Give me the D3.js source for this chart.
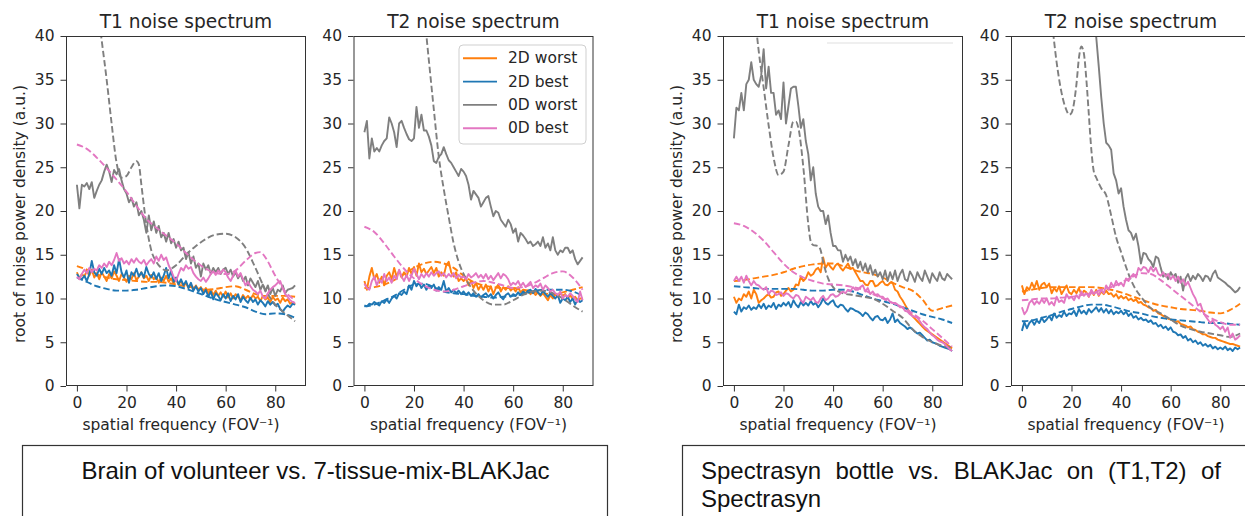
<!DOCTYPE html>
<html><head><meta charset="utf-8">
<script src="https://cdn.jsdelivr.net/npm/d3@7"></script>
<style>body{margin:0;background:#fff;}svg{display:block;}</style>
</head><body>
<svg id="chart" width="1245" height="516"></svg>
<script>
// ---------- shared axis values ----------
const yTicks = [0, 5, 10, 15, 20, 25, 30, 35, 40];
const xTicks = [0, 20, 40, 60, 80];
const seriesNames = ["2D worst", "2D best", "0D worst", "0D best"];
const titles = ["T1 noise spectrum", "T2 noise spectrum", "T1 noise spectrum", "T2 noise spectrum"];
const xLabel = "spatial frequency (FOV\u207B\u00B9)";
const yLabel = "root of noise power density (a.u.)";
const captions = ["Brain of volunteer vs. 7-tissue-mix-BLAKJac",
                  "Spectrasyn bottle vs. BLAKJac on (T1,T2) of", "Spectrasyn"];

// ---------- Panel 1: brain, T1 (solid = measured, sampled every 1 FOV^-1 from 0) ----------
const brainT1_2Dworst = [13.0,12.3,12.8,12.5,13.2,12.6,13.3,12.4,12.9,12.2, 13.0,12.5,12.0,12.8,12.3,13.1,12.6,12.0,12.8,12.4,
 11.9,12.6,12.2,12.9,12.1,12.5,13.0,12.3,12.6,12.0, 12.7,12.2,12.5,11.8,12.4,12.0,12.6,11.9,12.3,11.7,
 12.2,11.6,12.0,11.4,11.8,11.2,11.6,11.0,11.5,10.9, 11.3,10.8,11.2,10.6,11.0,10.4,10.9,10.3,10.7,10.2,
 10.8,10.1,10.6,10.0,10.5,10.2,9.8,10.4,10.0,10.3, 9.9,10.4,10.0,10.2,9.7,10.3,9.9,10.1,9.6,10.2, 9.8,10.0,9.5,10.1,9.7,9.9,9.4,9.6,9.3];
const brainT1_2Dbest = [12.8,12.4,12.2,12.6,12.0,12.8,14.3,13.0,12.6,13.4, 12.8,13.5,12.9,13.2,12.6,13.8,12.9,14.5,13.0,12.4,
 13.2,11.8,13.0,12.6,13.4,12.5,13.0,12.4,13.6,12.8, 12.4,13.0,12.2,12.9,12.0,12.6,13.5,12.3,13.2,11.9,
 12.4,11.6,12.2,11.5,12.0,11.2,11.8,10.9,11.4,10.8, 11.2,10.5,11.0,10.2,10.8,9.9,10.6,10.3,9.8,10.5,
 10.0,10.6,9.7,10.3,9.9,10.5,9.6,10.2,9.8,9.5, 10.1,9.6,9.9,9.3,9.8,9.5,9.1,9.7,9.3,9.6, 9.2,9.4,8.8,8.5,8.9,9.2,9.0,9.4,9.3];
const brainT1_0Dworst = [23.0,20.3,23.0,22.8,23.2,22.5,23.3,21.5,22.3,23.0, 23.5,24.5,25.3,24.5,23.3,24.7,24.2,24.8,23.5,22.5,
 22.0,21.0,21.5,20.5,21.0,19.5,20.0,19.0,17.5,19.5, 17.8,18.8,17.5,18.3,17.0,17.5,16.5,17.5,16.3,16.8,
 15.8,16.5,15.5,15.8,14.5,15.3,14.0,14.8,13.5,14.0, 12.5,14.0,13.3,13.8,12.8,13.5,13.0,13.5,12.8,13.3,
 13.5,12.8,13.3,12.5,13.0,12.3,12.8,12.0,12.5,11.5, 12.3,11.8,11.3,12.0,11.0,11.6,10.8,11.5,10.5,11.2, 10.3,11.0,10.8,11.5,10.6,11.0,11.1,11.2,11.5];
const brainT1_0Dbest = [12.5,12.2,12.8,13.3,12.9,13.5,13.0,13.4,13.2,13.8, 13.5,14.0,13.6,14.2,13.8,14.4,15.2,14.3,14.6,14.0,
 14.3,13.9,14.5,14.1,14.6,14.2,14.0,14.4,13.8,14.2, 14.5,14.0,14.8,14.3,15.0,14.4,14.7,13.8,13.2,12.5,
 12.0,12.8,13.5,13.2,13.8,13.4,13.6,12.9,12.5,12.2, 12.0,12.4,11.9,12.3,12.8,13.1,12.7,13.2,12.9,13.3,
 13.0,12.4,12.0,12.6,13.2,12.5,12.9,12.2,11.5,11.9, 11.4,11.0,10.8,10.5,10.9,10.2,10.0,10.6,11.0,11.3, 11.5,11.8,12.0,11.2,10.5,10.2,9.8,9.6,9.5];
// dashed = model, [frequency, value]
const brainT1_2Dworst_model = [[0,13.7],[4,13.3],[8,12.8],[12,12.4],[16,12.2],[20,12.1],[24,12.0],[28,11.9],[32,11.9],[36,11.8],[40,11.6],[44,11.4],[48,11.2],[52,11.0],[56,11.1],[60,11.3],[64,11.4],[68,11.0],[72,10.5],[76,10.3],[80,10.3],[84,10.3],[88,10.2]];
const brainT1_2Dbest_model = [[0,12.4],[4,11.9],[8,11.4],[12,11.1],[16,10.9],[20,10.9],[24,11.0],[28,11.2],[32,11.4],[36,11.5],[40,11.4],[44,11.1],[48,10.7],[52,10.3],[56,9.9],[60,9.6],[64,9.3],[68,9.0],[72,8.5],[76,8.2],[80,8.3],[84,8.2],[88,7.8]];
const brainT1_0Dworst_model = [[6,48],[8,44],[10,39.5],[12,35],[14,30],[16,25.5],[18,23.8],[20,24.0],[22,25.0],[24,25.7],[25,25.3],[26,23.0],[28,18.5],[30,15.5],[32,14.2],[34,13.5],[36,13.2],[38,13.4],[40,13.8],[44,15.0],[48,16.0],[52,16.8],[56,17.3],[60,17.4],[64,17.0],[68,15.8],[72,13.5],[76,11.0],[80,9.3],[84,8.3],[88,7.4]];
const brainT1_0Dbest_model = [[0,27.6],[4,27.1],[8,26.1],[12,24.9],[16,23.6],[20,22.2],[24,20.6],[28,19.1],[32,18.1],[36,17.2],[40,16.3],[44,15.2],[48,14.2],[52,13.4],[56,12.9],[60,12.8],[64,13.2],[68,14.3],[72,15.2],[74,15.3],[76,14.7],[80,12.6],[84,10.8],[88,9.8]];

// ---------- Panel 2: brain, T2 ----------
const brainT2_2Dworst = [12.0,11.0,12.5,13.5,12.2,12.8,11.8,12.5,11.5,12.6, 13.0,12.2,13.5,12.5,13.2,12.4,13.0,12.5,13.5,12.8,
 13.6,12.6,14.0,13.0,13.4,12.8,13.2,13.6,12.9,13.5, 12.5,13.0,12.6,13.8,14.2,13.0,12.5,13.0,12.0,12.3,
 12.0,12.3,11.5,12.0,11.2,11.8,11.0,11.5,11.0,11.6, 10.8,11.4,10.5,11.2,11.6,10.8,11.3,11.0,11.4,10.9,
 11.2,10.8,11.3,10.7,11.0,10.6,10.9,10.5,10.8,10.4, 10.7,10.3,10.6,10.2,9.8,10.4,10.0,10.5,10.2,10.6, 10.3,10.5,10.0,10.4,9.9,10.2,9.8,10.0,10.0];
const brainT2_2Dbest = [9.2,9.1,9.4,9.3,9.6,9.4,9.2,9.7,9.5,9.9, 9.5,10.0,10.3,10.0,10.6,10.4,10.8,10.5,11.5,11.0,
 12.0,11.4,11.8,11.2,11.6,11.0,11.5,11.2,11.6,10.9, 11.3,11.0,12.0,10.8,11.2,10.7,11.0,10.6,10.9,10.5,
 10.8,10.4,10.7,10.3,10.6,10.2,10.5,10.1,10.4,10.6, 10.2,10.5,10.0,10.4,10.7,10.2,9.9,10.4,10.6,10.2,
 10.5,10.3,10.7,10.4,10.8,10.5,10.9,11.0,10.6,11.1, 10.7,10.4,10.9,10.5,10.2,10.6,10.3,10.0,10.4,9.5, 10.0,9.8,10.2,9.6,10.0,9.3,9.9,9.6,9.8];
const brainT2_0Dworst = [29.0,30.3,26.0,28.3,26.8,27.2,26.8,27.5,28.0,28.3, 30.7,30.0,29.0,27.3,30.0,30.3,29.5,28.8,28.2,28.0,
 28.3,31.9,29.5,31.0,29.2,29.2,28.5,27.5,25.7,25.5, 26.2,26.5,27.3,26.5,25.8,25.5,25.0,24.5,24.0,24.8,
 24.5,24.0,23.0,21.3,22.3,21.9,21.5,20.5,21.0,21.5, 21.7,20.5,19.4,20.0,19.8,19.0,18.6,18.2,19.0,18.5,
 17.5,18.0,16.5,17.5,17.2,16.8,16.3,16.5,16.0,16.2, 16.5,16.0,17.0,15.8,16.3,15.5,17.0,15.5,15.0,15.5, 15.3,15.8,15.8,15.2,15.5,14.5,13.9,14.3,14.7];
const brainT2_0Dbest = [11.7,11.2,11.0,12.0,12.5,11.5,12.2,11.8,12.8,12.0, 12.4,11.8,12.6,12.2,13.3,12.5,12.0,12.7,12.0,12.6,
 13.4,12.8,12.2,12.8,12.4,12.9,12.5,13.0,12.6,12.9, 13.1,12.6,12.9,12.4,12.8,12.5,12.9,12.3,12.7,12.4,
 12.5,12.2,12.8,12.4,12.6,12.9,12.4,12.7,12.3,12.8, 12.2,12.6,12.1,12.5,12.9,12.3,12.8,12.6,12.2,11.5,
 11.8,11.6,12.0,11.4,11.8,11.3,11.6,11.9,11.2,11.5, 11.3,11.7,11.0,11.5,11.2,10.8,11.0,10.6,10.4,10.8, 10.0,10.4,10.2,10.6,10.3,9.9,9.6,10.8,9.8];
const brainT2_2Dworst_model = [[0,11.2],[4,11.3],[8,11.6],[12,12.1],[16,12.8],[20,13.5],[24,14.0],[28,14.2],[32,14.0],[36,13.5],[40,12.6],[44,11.9],[48,11.5],[52,11.3],[56,11.2],[60,11.2],[64,11.0],[68,10.8],[72,10.6],[76,10.5],[80,10.7],[84,11.0],[88,11.3]];
const brainT2_2Dbest_model = [[0,9.1],[4,9.3],[8,9.8],[12,10.3],[16,11.0],[20,11.6],[24,11.7],[28,11.3],[32,10.8],[36,10.6],[40,10.5],[44,10.3],[48,10.2],[52,10.1],[56,10.2],[60,10.3],[64,10.5],[68,10.8],[72,11.0],[76,11.0],[80,11.0],[84,10.8],[88,10.3]];
const brainT2_0Dworst_model = [[16,58],[20,51],[24,42.8],[26,37.2],[28,31.6],[30,26.2],[32,22.5],[34,19.3],[36,16.3],[38,14.2],[40,12.8],[42,11.7],[44,10.9],[48,9.8],[52,9.3],[56,9.3],[60,9.8],[64,10.4],[68,10.8],[72,10.9],[76,10.6],[80,10.0],[84,9.2],[88,8.5]];
const brainT2_0Dbest_model = [[0,18.2],[4,17.6],[8,16.3],[12,14.8],[16,13.4],[20,12.3],[24,11.5],[28,11.0],[32,10.8],[36,11.0],[40,11.4],[44,11.8],[48,12.0],[52,11.8],[56,11.5],[60,11.2],[64,11.3],[68,11.7],[72,12.3],[76,12.9],[80,13.1],[84,12.4],[88,11.0]];

// ---------- Panel 3: Spectrasyn, T1 ----------
const specT1_2Dworst = [10.2,9.5,10.0,9.8,10.5,10.2,10.8,10.0,11.0,10.5, 9.5,9.8,10.0,10.3,10.5,10.1,10.2,10.7,10.8,10.3,
 10.5,10.9,11.2,10.8,11.0,11.6,11.5,12.5,12.0,12.3, 13.0,12.6,12.8,13.3,13.5,13.0,14.7,13.5,14.0,13.6,
 13.3,13.8,14.0,13.5,13.2,13.6,14.0,13.4,13.5,13.0, 12.5,12.0,12.0,11.6,11.5,12.0,12.0,11.4,11.5,11.8,
 12.0,11.6,11.5,11.8,11.8,11.0,10.8,10.2,9.8,9.3, 8.8,8.4,8.0,7.7,7.4,7.1,6.8,6.5,6.3,6.1, 5.9,5.7,5.5,5.3,5.1,4.9,4.7,4.5,4.3];
const specT1_2Dbest = [8.5,8.2,9.3,8.5,9.0,8.8,9.2,8.7,9.0,8.8, 9.3,8.9,9.4,8.8,9.2,9.0,9.5,8.8,9.3,9.1,
 9.5,9.2,9.6,9.0,9.8,9.3,9.0,9.6,9.2,9.5, 9.2,9.7,9.3,9.5,9.0,9.4,10.0,9.5,9.3,9.6,
 9.8,9.2,9.0,9.3,9.2,8.8,8.5,8.9,8.8,8.6, 8.5,8.3,8.0,8.4,8.2,7.8,7.5,7.9,8.0,7.6,
 7.5,7.8,7.2,7.6,8.3,7.3,7.6,7.2,7.0,6.8, 6.5,6.7,6.5,6.2,6.0,6.1,5.8,5.5,5.2,5.3, 5.0,4.9,4.8,4.6,4.5,4.4,4.3,4.2,4.0];
const specT1_0Dworst = [28.3,31.8,31.5,33.5,31.5,34.5,35.0,37.0,35.0,34.5, 34.2,35.5,38.5,34.0,36.5,33.5,33.5,31.0,31.5,30.5,
 34.7,30.0,32.0,34.0,34.2,34.2,32.0,29.5,30.5,28.0, 26.5,23.5,25.0,22.0,20.5,20.0,20.0,18.5,19.5,17.5,
 16.0,16.0,15.5,15.5,14.2,15.0,14.3,14.8,13.8,14.5, 13.5,14.2,13.2,14.0,13.0,13.8,12.7,13.3,12.5,13.0,
 12.2,13.2,12.0,13.0,12.2,13.2,12.0,12.8,13.3,12.2, 12.0,13.1,12.6,11.9,13.0,12.4,12.0,13.2,12.5,11.8, 12.9,12.4,12.0,13.0,12.3,12.1,12.8,12.5,12.2];
const specT1_0Dbest = [12.0,12.5,12.0,12.5,11.8,12.6,12.0,11.5,12.0,11.6, 11.5,11.2,11.0,11.3,10.5,10.9,10.8,10.4,10.5,10.7,
 10.3,10.6,10.5,10.2,10.0,10.4,10.3,9.8,9.5,10.2, 10.0,9.8,10.1,9.6,9.5,10.0,10.3,9.8,10.0,10.4,
 10.5,10.2,10.3,10.6,10.8,10.6,11.0,10.8,11.3,11.0, 11.0,11.3,11.5,10.8,11.2,10.5,10.8,10.4,10.5,10.2,
 10.2,9.9,10.0,9.6,9.5,9.5,9.3,9.0,9.0,8.6, 8.5,8.2,8.0,7.9,7.8,7.4,7.0,6.7,6.5,6.1, 5.8,5.6,5.3,5.1,5.0,4.8,4.5,4.2,4.0];
const specT1_2Dworst_model = [[0,12.0],[4,12.1],[8,12.3],[12,12.5],[16,12.7],[20,13.0],[24,13.4],[28,13.7],[32,13.9],[36,14.0],[40,14.0],[44,13.7],[48,13.3],[52,13.0],[56,12.8],[60,12.4],[64,11.8],[68,11.3],[72,10.9],[76,9.9],[80,8.6],[84,8.9],[88,9.2]];
const specT1_2Dbest_model = [[0,11.4],[4,11.3],[8,11.2],[12,11.1],[16,11.1],[20,11.1],[24,11.1],[28,11.0],[32,10.9],[36,10.9],[40,11.0],[44,11.0],[48,10.8],[52,10.4],[56,10.0],[60,9.7],[64,9.4],[68,9.0],[72,8.6],[76,8.2],[80,7.9],[84,7.6],[88,7.2]];
const specT1_0Dworst_model = [[6,55],[8,45],[9,41],[10,38.3],[12,34.1],[14,29.8],[16,26.1],[18,24.1],[20,24.5],[22,27.5],[24,30.2],[25,30.2],[26,29.5],[28,25],[30,18.5],[31,16.5],[32,16.1],[34,16.0],[35,15.5],[36,14.2],[38,12.3],[40,11.3],[44,10.6],[48,10.4],[52,10.2],[56,10.0],[60,9.4],[64,8.6],[68,7.8],[72,6.5],[76,5.6],[80,5.0],[84,4.6],[88,4.4]];
const specT1_0Dbest_model = [[0,18.6],[4,18.3],[8,17.6],[12,16.6],[16,15.3],[20,14.0],[24,13.0],[28,12.4],[32,12.0],[36,11.7],[40,11.6],[44,11.5],[48,11.3],[52,11.0],[56,10.5],[60,10.0],[64,9.5],[68,9.0],[72,8.3],[76,7.5],[80,6.5],[84,5.5],[88,4.5]];

// ---------- Panel 4: Spectrasyn, T2 ----------
const specT2_2Dworst = [11.5,10.5,11.3,11.0,11.8,11.2,12.0,11.0,11.6,11.8, 11.3,11.7,10.6,11.2,10.8,11.4,10.5,11.0,11.5,10.7,
 10.5,11.0,10.6,11.2,10.4,10.9,10.7,10.2,10.9,10.4, 11.0,10.3,10.8,10.5,10.9,10.5,10.6,10.2,10.5,10.0,
 10.3,10.0,10.2,9.8,10.0,9.7,9.9,9.5,9.6,9.3, 9.2,9.0,8.9,8.6,8.7,8.3,8.2,8.0,7.9,7.7,
 7.6,7.5,7.3,7.4,7.1,7.0,6.9,6.7,6.8,6.5, 6.4,6.2,6.1,5.9,5.9,5.7,5.6,5.5,5.5,5.3, 5.2,5.1,5.0,4.9,4.8,4.8,4.7,4.6,4.5];
const specT2_2Dbest = [6.3,7.3,6.6,7.2,7.5,7.0,7.5,7.2,7.8,7.3, 7.6,8.0,7.5,8.3,7.8,8.1,7.9,8.5,8.0,8.3,
 8.2,8.6,8.0,8.8,8.3,8.6,8.2,8.8,8.4,8.7, 9.0,8.5,8.9,8.4,8.8,8.3,8.7,8.2,8.5,8.3,
 8.6,8.2,8.5,8.0,8.3,7.8,8.0,7.6,7.8,7.5, 7.6,7.3,7.5,7.1,7.2,6.8,7.0,6.6,6.8,6.4,
 6.7,6.2,6.1,5.8,5.9,5.5,5.7,5.2,5.4,5.0, 5.2,4.8,5.0,4.6,4.8,4.5,4.7,4.3,4.5,4.2, 4.4,4.2,4.5,4.1,4.3,4.0,4.4,4.2,4.4];
// 0D worst (T2, Spectrasyn) is off the top of the axes below 27 FOV^-1: listed from 27
const specT2_0Dworst_start = 27;
const specT2_0Dworst = [47.0,45.0,42.5,39.8,36.5,33.0,30.0,27.8,27.5,27.0,
 24.3,23.5,22.0,22.6,20.5,19.0,17.8,17.5,16.7,17.4, 16.0,14.0,15.2,15.1,14.5,14.2,13.6,14.8,14.6,13.5,
 12.5,12.8,12.2,13.0,12.5,12.8,11.8,12.5,10.9,12.3, 12.8,12.0,12.6,12.2,12.8,12.5,12.0,12.6,12.5,12.0,
 12.8,13.2,12.4,12.2,12.0,11.8,11.5,11.3,11.0,10.7, 10.9,11.3];
const specT2_0Dbest = [9.0,8.2,8.6,9.5,9.8,9.3,9.7,9.4,9.9,9.5, 10.0,9.3,9.6,9.2,10.2,9.6,9.8,9.5,10.5,10.0,
 10.2,9.8,10.4,10.0,10.8,10.3,10.6,10.2,11.0,10.5, 10.8,10.4,11.0,10.6,11.5,11.0,11.8,11.3,12.0,11.5,
 11.8,11.4,12.3,12.0,12.5,12.8,12.4,13.5,13.2,13.6, 13.5,13.0,13.6,13.1,13.5,12.8,12.6,13.0,12.5,12.8,
 12.2,12.6,12.0,12.5,11.8,12.2,11.5,11.9,11.2,10.5, 10.0,9.2,9.4,8.5,8.0,7.6,7.2,7.5,7.0,6.8, 6.5,6.8,6.2,6.7,5.5,6.0,5.3,5.5,5.8];
const specT2_2Dworst_model = [[0,10.8],[4,11.0],[8,11.2],[12,11.3],[16,11.3],[20,11.3],[24,11.3],[28,11.3],[32,11.2],[36,11.0],[40,10.7],[44,10.3],[48,9.9],[52,9.5],[56,9.2],[60,9.0],[64,8.8],[68,8.7],[72,8.6],[76,8.4],[80,8.3],[84,8.7],[88,9.4]];
const specT2_2Dbest_model = [[0,7.4],[4,7.5],[8,7.8],[12,8.1],[16,8.5],[20,8.8],[24,9.1],[28,9.3],[32,9.3],[36,9.1],[40,8.8],[44,8.5],[48,8.3],[52,8.0],[56,7.8],[60,7.6],[64,7.5],[68,7.4],[72,7.3],[76,7.2],[80,7.2],[84,7.1],[88,7.0]];
const specT2_0Dworst_model = [[10,48],[12,42],[14,37],[16,33.5],[18,31.5],[19,31.0],[20,31.2],[22,34.5],[23,37.5],[24,38.8],[25,38.0],[26,35.0],[27,31.0],[28,27.0],[29,24.5],[30,23.8],[32,22.6],[34,21.8],[36,19.5],[38,17.0],[40,15.3],[42,13.6],[44,12.1],[46,11.0],[48,10.2],[52,8.9],[56,8.3],[60,7.6],[64,6.9],[68,6.5],[72,6.2],[76,6.0],[80,5.8],[84,5.6],[88,6.0]];
const specT2_0Dbest_model = [[0,9.8],[4,9.9],[8,10.0],[12,10.0],[16,10.1],[20,10.2],[24,10.4],[28,10.6],[32,11.0],[36,11.3],[40,11.8],[44,12.4],[48,12.9],[52,12.8],[56,12.1],[60,11.2],[64,10.3],[68,9.4],[72,8.5],[76,7.8],[80,7.3],[84,7.0],[88,7.0]];

// ---------- styling ----------
const colors = {"2D worst":"#ff7f0e","2D best":"#1f77b4","0D worst":"#7f7f7f","0D best":"#e377c2"};
const TXT = "#262626";
const FONT = "DejaVu Sans, sans-serif";
const AX_W = 240, AX_TOP = 36, AX_BOT = 386;

const toPts = (vals, x0 = 0) => vals.map((v, i) => [x0 + i, v]);

const panels = [
  { left: 66, title: titles[0], ylab: true, legend: false, extra: false,
    data: { "2D worst": [toPts(brainT1_2Dworst), brainT1_2Dworst_model],
            "2D best":  [toPts(brainT1_2Dbest),  brainT1_2Dbest_model],
            "0D worst": [toPts(brainT1_0Dworst), brainT1_0Dworst_model],
            "0D best":  [toPts(brainT1_0Dbest),  brainT1_0Dbest_model] } },
  { left: 353.5, title: titles[1], ylab: false, legend: true, extra: false,
    data: { "2D worst": [toPts(brainT2_2Dworst), brainT2_2Dworst_model],
            "2D best":  [toPts(brainT2_2Dbest),  brainT2_2Dbest_model],
            "0D worst": [toPts(brainT2_0Dworst), brainT2_0Dworst_model],
            "0D best":  [toPts(brainT2_0Dbest),  brainT2_0Dbest_model] } },
  { left: 723, title: titles[2], ylab: true, legend: false, extra: true,
    data: { "2D worst": [toPts(specT1_2Dworst), specT1_2Dworst_model],
            "2D best":  [toPts(specT1_2Dbest),  specT1_2Dbest_model],
            "0D worst": [toPts(specT1_0Dworst), specT1_0Dworst_model],
            "0D best":  [toPts(specT1_0Dbest),  specT1_0Dbest_model] } },
  { left: 1011, title: titles[3], ylab: false, legend: false, extra: false,
    data: { "2D worst": [toPts(specT2_2Dworst), specT2_2Dworst_model],
            "2D best":  [toPts(specT2_2Dbest),  specT2_2Dbest_model],
            "0D worst": [toPts(specT2_0Dworst, specT2_0Dworst_start), specT2_0Dworst_model],
            "0D best":  [toPts(specT2_0Dbest),  specT2_0Dbest_model] } }
];

const svg = d3.select("#chart");
svg.append("rect").attr("width", 1245).attr("height", 516).attr("fill", "#fff");

panels.forEach((p, pi) => {
  const x = d3.scaleLinear().domain([-4.4, 92.4]).range([p.left, p.left + AX_W]);
  const y = d3.scaleLinear().domain([0, 40]).range([AX_BOT, AX_TOP]);
  const g = svg.append("g");
  const clipId = "clip" + pi;
  svg.append("clipPath").attr("id", clipId).append("rect")
    .attr("x", p.left).attr("y", AX_TOP).attr("width", AX_W).attr("height", AX_BOT - AX_TOP);

  if (p.extra) {
    g.append("line").attr("x1", 827).attr("x2", 953).attr("y1", 43).attr("y2", 43)
      .attr("stroke", "#efefef").attr("stroke-width", 2);
  }

  const lines = g.append("g").attr("clip-path", `url(#${clipId})`);
  const solidLine = d3.line().x(d => x(d[0])).y(d => y(d[1]));
  const dashLine = d3.line().x(d => x(d[0])).y(d => y(d[1])).curve(d3.curveMonotoneX);
  seriesNames.forEach(name => {
    const [solid, model] = p.data[name];
    lines.append("path").attr("d", solidLine(solid)).attr("fill", "none")
      .attr("stroke", colors[name]).attr("stroke-width", 1.9).attr("stroke-linejoin", "round");
    lines.append("path").attr("d", dashLine(model)).attr("fill", "none")
      .attr("stroke", colors[name]).attr("stroke-width", 1.9).attr("stroke-dasharray", "6.5,3");
  });

  // axes
  const ya = g.append("g").attr("transform", `translate(${p.left},0)`)
    .call(d3.axisLeft(y).tickValues(yTicks).tickSize(5.5).tickPadding(6));
  const xa = g.append("g").attr("transform", `translate(0,${AX_BOT})`)
    .call(d3.axisBottom(x).tickValues(xTicks).tickSize(5.5).tickPadding(5));
  [ya, xa].forEach(a => {
    a.select(".domain").remove();
    a.selectAll("line").attr("stroke", "#333");
    a.selectAll("text").attr("fill", TXT).style("font-family", FONT).style("font-size", "15.5px");
  });
  g.append("rect").attr("x", p.left + 0.5).attr("y", AX_TOP + 0.5)
    .attr("width", AX_W - 1).attr("height", AX_BOT - AX_TOP - 1)
    .attr("fill", "none").attr("stroke", "#333").attr("stroke-width", 1);

  g.append("text").attr("x", p.left + AX_W / 2).attr("y", 28).attr("text-anchor", "middle")
    .attr("fill", TXT).style("font-family", FONT).style("font-size", "18.6px").text(p.title);
  g.append("text").attr("x", p.left + AX_W / 2 - 5).attr("y", 430).attr("text-anchor", "middle")
    .attr("fill", TXT).style("font-family", FONT).style("font-size", "15.5px").text(xLabel);
  if (p.ylab) {
    g.append("text").attr("transform", `translate(${p.left - 46.5},214) rotate(-90)`)
      .attr("text-anchor", "middle").attr("dominant-baseline", "central")
      .attr("fill", TXT).style("font-family", FONT).style("font-size", "15.5px").text(yLabel);
  }

  if (p.legend) {
    const lg = g.append("g");
    lg.append("rect").attr("x", 459).attr("y", 45).attr("width", 127).attr("height", 99)
      .attr("rx", 4).attr("fill", "#fff").attr("fill-opacity", 0.8).attr("stroke", "#cfcfcf");
    seriesNames.forEach((name, i) => {
      const ly = 58.3 + i * 23.3;
      lg.append("line").attr("x1", 463).attr("x2", 497).attr("y1", ly).attr("y2", ly)
        .attr("stroke", colors[name]).attr("stroke-width", 1.9);
      lg.append("text").attr("x", 508).attr("y", ly).attr("dominant-baseline", "central")
        .attr("fill", TXT).style("font-family", FONT).style("font-size", "15.5px").text(name);
    });
  }
});

// ---------- caption boxes ----------
const CFONT = "Liberation Sans, Arial, sans-serif";
const CSIZE = "24px";
svg.append("rect").attr("x", 22.5).attr("y", 445.5).attr("width", 585).attr("height", 120)
  .attr("fill", "none").attr("stroke", "#333").attr("stroke-width", 1.2);
svg.append("rect").attr("x", 682.5).attr("y", 445.5).attr("width", 620).attr("height", 120)
  .attr("fill", "none").attr("stroke", "#333").attr("stroke-width", 1.2);
svg.append("text").attr("x", 315.5).attr("y", 479).attr("text-anchor", "middle")
  .attr("fill", "#111").style("font-family", CFONT).style("font-size", CSIZE).text(captions[0]);

// justified first line of second caption
const words = captions[1].split(" ");
const jx0 = 701, jx1 = 1221;
const tmp = words.map(w => svg.append("text").style("font-family", CFONT).style("font-size", CSIZE).text(w));
const widths = tmp.map(t => t.node().getComputedTextLength());
tmp.forEach(t => t.remove());
const gap = (jx1 - jx0 - d3.sum(widths)) / (words.length - 1);
let cx = jx0;
words.forEach((w, i) => {
  svg.append("text").attr("x", cx).attr("y", 479).attr("fill", "#111")
    .style("font-family", CFONT).style("font-size", CSIZE).text(w);
  cx += widths[i] + gap;
});
svg.append("text").attr("x", jx0).attr("y", 507).attr("fill", "#111")
  .style("font-family", CFONT).style("font-size", CSIZE).text(captions[2]);
</script>
</body></html>
